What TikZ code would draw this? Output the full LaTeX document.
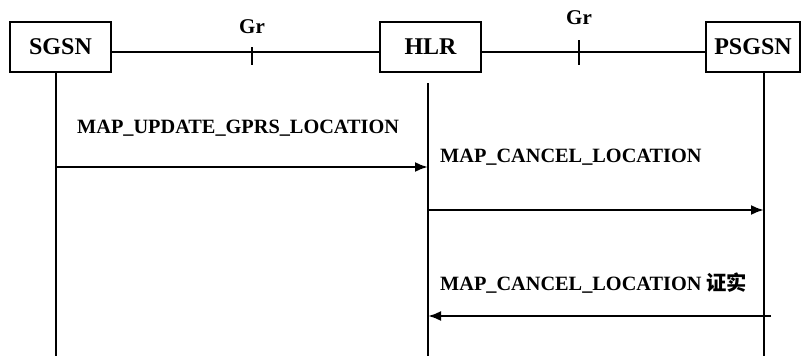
\documentclass[tikz,border=0pt]{standalone}
\usepackage{fontspec}
\setmainfont{Liberation Serif}
\newfontfamily\cjk{Noto Sans CJK SC}
\usepackage{tikz}
\usetikzlibrary{arrows.meta,positioning,calc}

\begin{document}
\begin{tikzpicture}[x=1pt,y=-1pt,
  entity/.style={draw,line width=1.8pt,minimum height=50pt,inner sep=0pt,font=\fontsize{24}{26}\selectfont\bfseries},
  link/.style={line width=1.8pt},
  lifeline/.style={line width=1.8pt},
  msglabel/.style={anchor=west,inner sep=0pt,font=\fontsize{20.3}{22}\selectfont\bfseries},
  iface/.style={inner sep=0pt,font=\fontsize{21}{22}\selectfont\bfseries},
  msg/.style={-{Latex[length=13pt,width=10pt]},line width=2.3pt}]

\path[use as bounding box] (0,0) rectangle (802,356);
\node[entity,minimum width=101pt] (sgsn) at (60.5,47) {SGSN};
\node[entity,minimum width=101pt] (hlr) at (430.5,47) {HLR};
\node[entity,minimum width=94pt] (psgsn) at (753,47) {PSGSN};
\draw[link] ([yshift=-5pt]sgsn.east) -- ([yshift=-5pt]hlr.west);
\draw[link] ([yshift=-5pt]hlr.east) -- ([yshift=-5pt]psgsn.west);
\coordinate (gr1) at (252,52);
\coordinate (gr2) at (579,52);
\draw[link] ([yshift=5pt]gr1) -- ([yshift=-13pt]gr1);
\draw[link] ([yshift=12pt]gr2) -- ([yshift=-13pt]gr2);
\node[iface] (grlab1) at (252,27) {Gr};
\node[iface] (grlab2) at (579,18) {Gr};
\coordinate (sgsnend) at (56,356);
\coordinate (hlrtop) at (428,83);
\coordinate (hlrend) at (428,356);
\coordinate (psgsnend) at (764,356);
\draw[lifeline] (sgsn.south -| sgsnend) -- (sgsnend);
\draw[lifeline] (hlrtop) -- (hlrend);
\draw[lifeline] (psgsn.south -| psgsnend) -- (psgsnend);
\coordinate (m1s) at (56,167);
\coordinate (m1e) at (428,167);
\coordinate (m2s) at (428,210);
\coordinate (m2e) at (764,210);
\coordinate (m3s) at (771,316);
\coordinate (m3e) at (428,316);
\node[msglabel] (upd) at (77,128) {MAP\_UPDATE\_GPRS\_LOCATION};
\node[msglabel] (cancel) at (440,157) {MAP\_CANCEL\_LOCATION};
\node[msglabel] (cancelack) at (440,283) {MAP\_CANCEL\_LOCATION {\cjk 证实}};
\draw[msg] (m1s) -- (m1e);
\draw[msg] (m2s) -- (m2e);
\draw[msg] (m3s) -- (m3e);

\end{tikzpicture}
\end{document}
